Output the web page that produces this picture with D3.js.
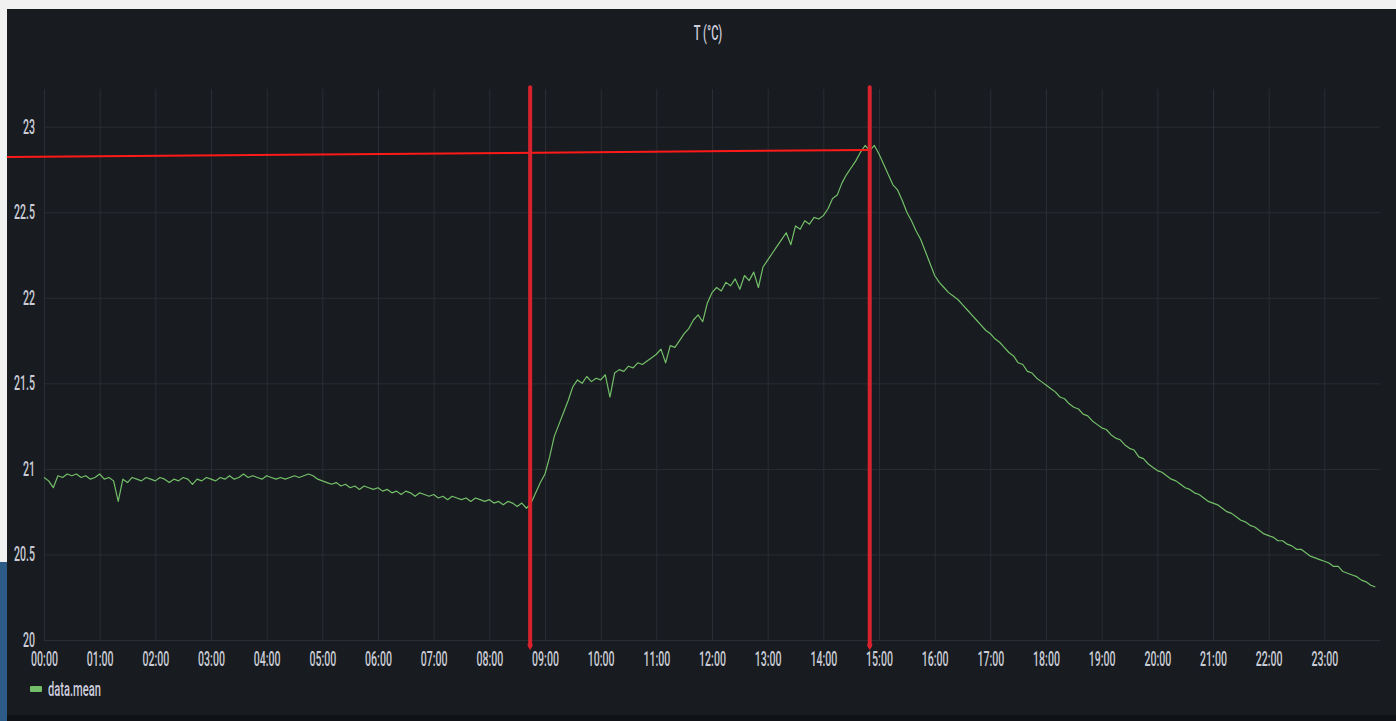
<!DOCTYPE html>
<html>
<head>
<meta charset="utf-8">
<script src="https://cdn.jsdelivr.net/npm/d3@7"></script>
<style>
	html, body { margin: 0; padding: 0; background: #f1f1f1; overflow: hidden; }
	svg { display: block; }
	.tick text { fill: #c9ccd6; font-family: Roboto, sans-serif; font-size: 20px; font-weight: 500; }
</style>
</head>
<body>
<svg id="main_svg"></svg>
<script>
const WIDTH = 1396;
const HEIGHT = 721;
const PLOT_LEFT = 44;
const PLOT_RIGHT = 1380;
const PLOT_TOP = 89;
const PLOT_BOTTOM = 640;
const SQUEEZE = 0.53; // the screenshot is squeezed sideways, so is the text

// Tick values
const HOURS = [0, 1, 2, 3, 4, 5, 6, 7, 8, 9, 10, 11, 12, 13, 14, 15, 16, 17, 18, 19, 20, 21, 22, 23];
const Y_TICKS = [20, 20.5, 21, 21.5, 22, 22.5, 23];
const Y_DOMAIN = [20, 23.22];

// data.mean, one value every 5 minutes from 00:00 (one row per hour)
const SAMPLE_MINUTES = 5;
const T_MEAN = [
	20.95, 20.93, 20.89, 20.96, 20.95, 20.97, 20.96, 20.97, 20.95, 20.96, 20.94, 20.95,
	20.97, 20.94, 20.95, 20.93, 20.81, 20.94, 20.92, 20.95, 20.94, 20.93, 20.95, 20.94,
	20.93, 20.95, 20.94, 20.92, 20.94, 20.93, 20.95, 20.94, 20.91, 20.94, 20.93, 20.95,
	20.94, 20.93, 20.95, 20.94, 20.96, 20.94, 20.95, 20.97, 20.95, 20.96, 20.95, 20.94,
	20.96, 20.95, 20.94, 20.95, 20.94, 20.95, 20.96, 20.95, 20.96, 20.97, 20.96, 20.94,
	20.93, 20.92, 20.91, 20.92, 20.90, 20.91, 20.89, 20.90, 20.88, 20.90, 20.89, 20.88,
	20.89, 20.87, 20.88, 20.86, 20.87, 20.85, 20.87, 20.86, 20.84, 20.86, 20.85, 20.84,
	20.85, 20.83, 20.84, 20.82, 20.84, 20.83, 20.82, 20.83, 20.81, 20.83, 20.82, 20.81,
	20.82, 20.80, 20.81, 20.79, 20.81, 20.80, 20.78, 20.80, 20.77, 20.80, 20.86, 20.92,
	20.97, 21.07, 21.19, 21.26, 21.33, 21.40, 21.48, 21.52, 21.50, 21.54, 21.51, 21.53,
	21.52, 21.55, 21.42, 21.56, 21.58, 21.57, 21.60, 21.59, 21.62, 21.61, 21.63, 21.65,
	21.67, 21.70, 21.62, 21.72, 21.71, 21.75, 21.79, 21.82, 21.87, 21.90, 21.86, 21.97,
	22.03, 22.06, 22.04, 22.09, 22.07, 22.11, 22.05, 22.13, 22.10, 22.15, 22.06, 22.18,
	22.22, 22.26, 22.30, 22.34, 22.38, 22.31, 22.42, 22.40, 22.45, 22.43, 22.47, 22.46,
	22.48, 22.52, 22.58, 22.60, 22.67, 22.72, 22.76, 22.80, 22.85, 22.89, 22.86, 22.89,
	22.84, 22.78, 22.72, 22.66, 22.63, 22.57, 22.50, 22.45, 22.39, 22.34, 22.27, 22.20,
	22.13, 22.09, 22.06, 22.03, 22.01, 21.99, 21.96, 21.93, 21.90, 21.87, 21.84, 21.81,
	21.79, 21.76, 21.74, 21.71, 21.68, 21.66, 21.62, 21.61, 21.57, 21.56, 21.53, 21.51,
	21.49, 21.47, 21.45, 21.42, 21.41, 21.38, 21.36, 21.35, 21.32, 21.31, 21.28, 21.26,
	21.24, 21.23, 21.20, 21.18, 21.17, 21.14, 21.12, 21.11, 21.07, 21.06, 21.03, 21.01,
	20.99, 20.98, 20.96, 20.94, 20.93, 20.91, 20.89, 20.88, 20.86, 20.85, 20.83, 20.81,
	20.80, 20.79, 20.77, 20.75, 20.74, 20.72, 20.70, 20.69, 20.67, 20.66, 20.64, 20.62,
	20.61, 20.60, 20.58, 20.58, 20.56, 20.55, 20.53, 20.53, 20.51, 20.49, 20.48, 20.47,
	20.46, 20.45, 20.43, 20.43, 20.40, 20.39, 20.38, 20.37, 20.35, 20.34, 20.32, 20.31
];

// Red hand-drawn annotations (minutes after 00:00, degrees)
const MARKER_MINUTES = [524, 890];
const MARKER_RANGE = [19.94, 23.23];
const PEAK_LINE_MINUTES = [-40, 890];
const PEAK_LINE_VALUES = [22.822, 22.864];

const day = (minutes) => new Date(2024, 0, 1, 0, minutes);

// Add a squeezed text at a position
const squeezed_text = (elem, x, y, txt) => {
	return elem.append('text')
		.attr('transform', `translate(${x},${y}) scale(${SQUEEZE},1)`)
		.attr('font-family', 'Roboto, sans-serif')
		.attr('font-weight', 500)
		.attr('fill', '#ccccdc')
		.text(txt);
};

const init = () => {
	const svg = d3.select('#main_svg').attr('width', WIDTH).attr('height', HEIGHT);

	// Page around the panel
	svg.append('rect').attr('x', 0).attr('y', 0).attr('width', WIDTH).attr('height', HEIGHT).attr('fill', '#f1f1f1');
	svg.append('rect').attr('x', 0).attr('y', 562).attr('width', 8).attr('height', HEIGHT - 562).attr('fill', '#2b5b86');
	svg.append('rect').attr('x', 7).attr('y', 9).attr('width', WIDTH - 7).attr('height', HEIGHT - 9).attr('fill', '#181b1f');
	svg.append('rect').attr('x', 7).attr('y', 715).attr('width', WIDTH - 7).attr('height', 6).attr('fill', '#111217');

	const x_scale = d3.scaleTime()
		.domain([day(0), day(24 * 60)])
		.range([PLOT_LEFT, PLOT_RIGHT]);

	const y_scale = d3.scaleLinear()
		.domain(Y_DOMAIN)
		.range([PLOT_BOTTOM, PLOT_TOP]);

	const hour_dates = HOURS.map(h => day(h * 60));

	// Grid
	svg.append('g')
		.attr('transform', `translate(0,${PLOT_BOTTOM})`)
		.call(d3.axisBottom(x_scale).tickValues(hour_dates).tickSize(-(PLOT_BOTTOM - PLOT_TOP)).tickFormat(''))
		.call(g => g.select('.domain').remove())
		.call(g => g.selectAll('line').attr('stroke', '#2a2d33'));

	svg.append('g')
		.attr('transform', `translate(${PLOT_LEFT},0)`)
		.call(d3.axisLeft(y_scale).tickValues(Y_TICKS).tickSize(-(PLOT_RIGHT - PLOT_LEFT)).tickFormat(''))
		.call(g => g.select('.domain').remove())
		.call(g => g.selectAll('line').attr('stroke', '#2a2d33'));

	// Axis labels
	svg.append('g')
		.attr('transform', `translate(0,${PLOT_BOTTOM + 13})`)
		.call(d3.axisBottom(x_scale).tickValues(hour_dates).tickSize(0).tickFormat(d3.timeFormat('%H:%M')))
		.call(g => g.select('.domain').remove())
		.call(g => g.selectAll('text').attr('transform', `scale(${SQUEEZE},1)`).attr('dy', '0.5em'));

	svg.append('g')
		.attr('transform', `translate(${PLOT_LEFT - 9},0)`)
		.call(d3.axisLeft(y_scale).tickValues(Y_TICKS).tickSize(0).tickFormat(d => d))
		.call(g => g.select('.domain').remove())
		.call(g => g.selectAll('text').attr('x', 0).attr('transform', `scale(${SQUEEZE},1)`));

	// Series
	const dataset = T_MEAN.map((v, i) => [day(i * SAMPLE_MINUTES), v]);
	const line = d3.line()
		.x(d => x_scale(d[0]))
		.y(d => y_scale(d[1]));

	svg.append('path')
		.datum(dataset)
		.attr('d', line)
		.attr('fill', 'none')
		.attr('stroke', '#73bf69')
		.attr('stroke-width', 1.2)
		.attr('stroke-linejoin', 'round');

	// Title
	squeezed_text(svg, 708, 40, 'T (°C)')
		.attr('font-size', '21px')
		.attr('text-anchor', 'middle');

	// Legend
	svg.append('rect')
		.attr('x', 30).attr('y', 686).attr('width', 12).attr('height', 6).attr('rx', 1)
		.attr('fill', '#73bf69');
	squeezed_text(svg, 48, 696, 'data.mean')
		.attr('font-size', '21px');

	// Red annotations
	svg.append('line')
		.attr('x1', x_scale(day(PEAK_LINE_MINUTES[0])))
		.attr('x2', x_scale(day(PEAK_LINE_MINUTES[1])))
		.attr('y1', y_scale(PEAK_LINE_VALUES[0]))
		.attr('y2', y_scale(PEAK_LINE_VALUES[1]))
		.attr('stroke', '#ff1a1a')
		.attr('stroke-width', 2);

	MARKER_MINUTES.forEach(m => {
		const x = x_scale(day(m));
		const y_top = y_scale(MARKER_RANGE[1]);
		const y_bottom = y_scale(MARKER_RANGE[0]);
		svg.append('line')
			.attr('x1', x).attr('x2', x)
			.attr('y1', y_top).attr('y2', y_bottom - 4)
			.attr('stroke', '#d8232e')
			.attr('stroke-width', 4)
			.attr('stroke-linecap', 'round');
		svg.append('path')
			.attr('d', `M${x - 3},${y_bottom - 6} L${x + 3},${y_bottom - 6} L${x},${y_bottom} Z`)
			.attr('fill', '#d8232e');
	});
};

window.onload = init;
</script>
</body>
</html>
